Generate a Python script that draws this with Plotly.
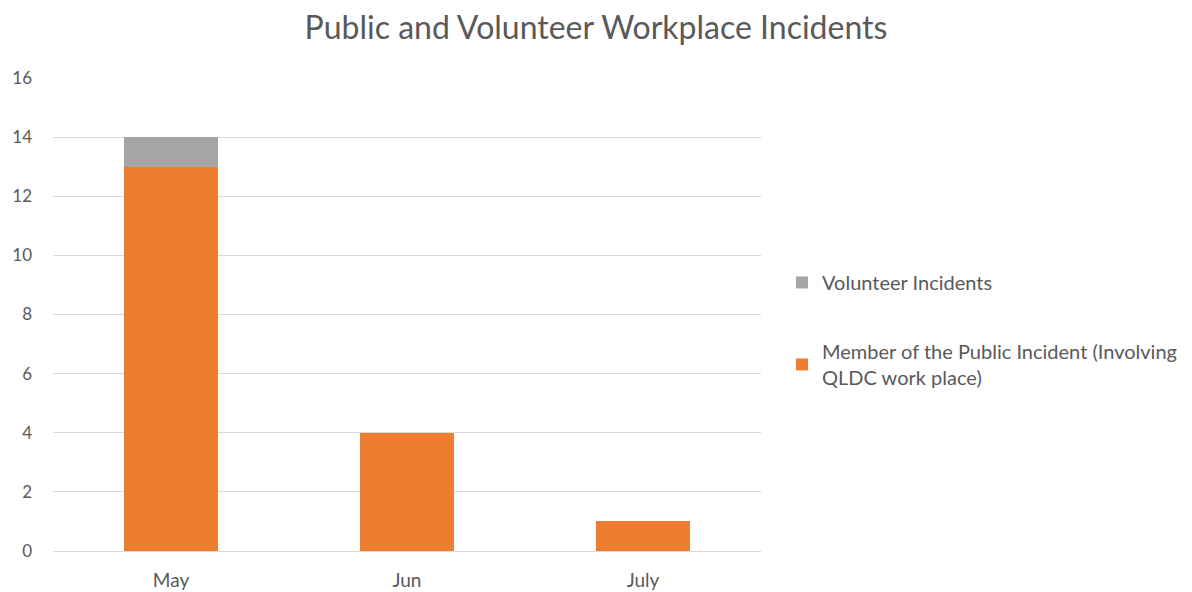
import plotly.graph_objects as go

# Monthly incident counts
months = ["May", "Jun", "July"]
public_incidents = [13, 4, 1]
volunteer_incidents = [1, 0, 0]

y_ticks = [0, 2, 4, 6, 8, 10, 12, 14, 16]

FONT = "Lato, 'Open Sans', sans-serif"
TEXT = "#595959"

fig = go.Figure()
fig.add_trace(go.Bar(
    x=months, y=public_incidents,
    name="Member of the Public Incident (Involving<br>QLDC work place)",
    marker=dict(color="#ED7D31", line=dict(width=0)),
    legendgroup="pub", legendrank=2,
))
fig.add_trace(go.Bar(
    x=months, y=volunteer_incidents,
    name="Volunteer Incidents",
    marker=dict(color="#A5A5A5", line=dict(width=0)),
    legendgroup="vol", legendrank=1,
))

fig.update_layout(
    barmode="stack",
    bargap=0.6,
    width=1192, height=592,
    margin=dict(l=53, r=431, t=78, b=41, autoexpand=False),
    paper_bgcolor="white", plot_bgcolor="white",
    font=dict(family=FONT, color=TEXT, size=18),
    title=dict(
        text="Public and Volunteer Workplace Incidents",
        x=0.5, xref="container", xanchor="center",
        y=1 - 28 / 592, yanchor="middle",
        font=dict(size=32, color=TEXT, family=FONT),
    ),
    legend=dict(
        x=1.0297, xanchor="left",
        y=0.609, yanchor="top",
        tracegroupgap=40,
        itemclick=False,
        font=dict(size=20, color=TEXT, family=FONT),
        itemwidth=30,
    ),
    xaxis=dict(
        showgrid=False, showline=True, linecolor="#D9D9D9", linewidth=1,
        ticks="", tickfont=dict(size=19, color=TEXT), ticklabelstandoff=12,
        automargin=False,
    ),
    yaxis=dict(
        range=[0, 16], tickvals=y_ticks,
        showgrid=True, gridcolor="#D9D9D9", gridwidth=1,
        zeroline=False, showline=False, ticks="",
        tickfont=dict(size=17, color=TEXT), ticklabelstandoff=20,
        automargin=False,
    ),
)

fig.write_html("out.html")
